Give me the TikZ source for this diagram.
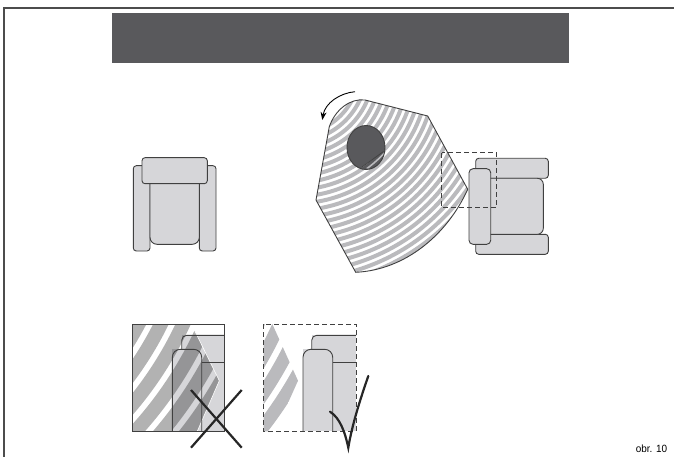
\documentclass[tikz,border=0pt]{standalone}
\usepackage{fontspec}
\setmainfont{Liberation Sans}
\usepackage{tikz}
\usetikzlibrary{arrows.meta,positioning}
\definecolor{bannergray}{rgb}{0.35,0.35,0.36}
\definecolor{sofagray}{rgb}{0.84,0.84,0.85}
\definecolor{stripegray}{rgb}{0.73,0.73,0.74}
\definecolor{linegray}{rgb}{0.25,0.25,0.25}
\newcommand{\fanpath}{(329.3,126.7) .. controls (335,110) and (350,98) .. (365,100) -- (427.7,116) -- (467.7,189.3)
  .. controls (447,235) and (405,270) .. (355.7,272.3) -- (316,200) -- cycle}
\tikzset{
  sofa/.style={
    rounded corners=3pt,
    draw=linegray,
    fill=sofagray,
    line width=.9pt
  },
  outline/.style={
    draw=linegray,
    line width=.9pt
  },
  stripe/.style={
    draw=stripegray,
    line width=4pt
  },
  bigstripe/.style={
    draw=stripegray,
    line width=13pt
  },
  tick/.style={
    line width=2.2pt,
    draw=black!85,
    line cap=round
  },
  dashbox/.style={
    draw=linegray,
    line width=.8pt,
    dash pattern=on 5pt off 3pt
  }
}
\begin{document}
\begin{tikzpicture}[x=1pt,y=-1pt]
\useasboundingbox (0,0) rectangle (674,457);
\coordinate (centre) at (295,70);
\coordinate (bigcentre) at (-150,170);
\coordinate (okcentre) at (-71,169);
% frame and banner
\draw[draw=black!70,line width=1.2pt] (4,457) -- (4,8) -- (674,8);
\fill[bannergray] (112,13) rectangle (569,63);
% chair on the left
\draw[sofa] (133.3,165.7) rectangle (150,251);
\draw[sofa] (199.3,165.7) rectangle (216,251);
\draw[sofa,rounded corners=7pt] (150,183) -- (150,244.3) -- (199.3,244.3) -- (199.3,183);
\draw[sofa] (142,157.7) rectangle (207.3,183.7);
% turning fan
\begin{scope}
\clip \fanpath;
\foreach \r in {30,36.9,...,245}
  \draw[stripe] (centre) circle (\r);
\end{scope}
\draw[outline] \fanpath;
% hole
\fill[bannergray] (366,147.5) ellipse (19 and 22);
\begin{scope}
\clip (366,147.5) ellipse (19 and 22);
\clip (362,167) -- (383.5,151.5) -- (390,175) -- cycle;
\foreach \r in {30,34.6,...,245}
  \draw[draw=stripegray,line width=1.6pt] (centre) circle (\r);
\end{scope}
\draw[outline] (366,147.5) ellipse (19 and 22);
\draw[outline,line width=.7pt] (362,167) -- (383.5,151.5);
\draw[-{Stealth[length=8pt,width=6pt]},line width=.9pt] (355,91.7) .. controls (340,93) and (325,103) .. (322.3,120);
% chair on the right
\draw[sofa] (475.7,158.3) rectangle (548.3,178.3);
\draw[sofa] (475.7,234.3) rectangle (548.3,254.3);
\draw[sofa,rounded corners=6pt] (490.7,178.3) -- (543.3,178.3) -- (543.3,234.3) -- (490.7,234.3);
\draw[sofa,rounded corners=4pt] (469,168.7) rectangle (490.7,244.3);
\draw[dashbox] (441.7,152.7) rectangle (496.7,207.3);
% wrong position
\begin{scope}
\clip (132.7,324.7) rectangle (224.7,431.3);
\fill[sofagray] (181.7,431.3) -- (181.7,335.3) -- (224.7,335.3) -- (224.7,431.3) -- cycle;
\fill[sofagray] (172.3,431.3) rectangle (201.7,349.3);
\begin{scope}
\clip (120,324.7) -- (191.7,324.7) -- (219.3,380.7) -- (197.3,431.3) -- (120,431.3) -- cycle;
\foreach \r in {307,327,...,467}
  \draw[draw=black,opacity=.3,line width=14pt] (bigcentre) circle (\r);
\end{scope}
\draw[white,line width=.6pt] (191.7,324.7) -- (219.3,380.7) -- (197.3,431.3);
\draw[outline,rounded corners=5pt] (181.7,349.3) -- (181.7,335.3) -- (224.7,335.3);
\draw[outline] (201.7,362) -- (224.7,362);
\draw[outline,rounded corners=8pt] (172.3,431.3) -- (172.3,349.3) -- (201.7,349.3) -- (201.7,431.3);
\end{scope}
\draw[outline,line width=1.2pt] (132.7,324.7) rectangle (224.7,431.3);
\draw[tick,line cap=butt] (191,390) -- (241.7,447.7);
\draw[tick,line cap=butt] (241.7,390) -- (191,447.7);
% right position
\begin{scope}
\clip (263.7,324) -- (272.3,324) -- (298,380.7) -- (275.3,431.3) -- (263.7,431.3) -- cycle;
\foreach \r in {344,363.5,...,500}
  \draw[bigstripe] (okcentre) circle (\r);
\end{scope}
\fill[sofagray] (311.7,431.3) -- (311.7,335.3) -- (356,335.3) -- (356,431.3) -- cycle;
\fill[sofagray] (303,431.3) rectangle (332.7,349.3);
\draw[outline,rounded corners=5pt] (311.7,349.3) -- (311.7,335.3) -- (356,335.3);
\draw[outline] (332.7,362) -- (356,362);
\draw[outline,rounded corners=8pt] (303,431.3) -- (303,349.3) -- (332.7,349.3) -- (332.7,431.3);
\draw[dashbox] (263.7,324) rectangle (356,431.3);
\draw[tick] (330,411.7) .. controls (340,418) and (345,432) .. (348.3,447.7) .. controls (352,425) and (360,400) .. (368.3,376);
\node[font=\fontsize{10.5}{12}\selectfont,xscale=.95] (figlabel) at (651.5,449) {obr. 10};
\end{tikzpicture}
\end{document}
